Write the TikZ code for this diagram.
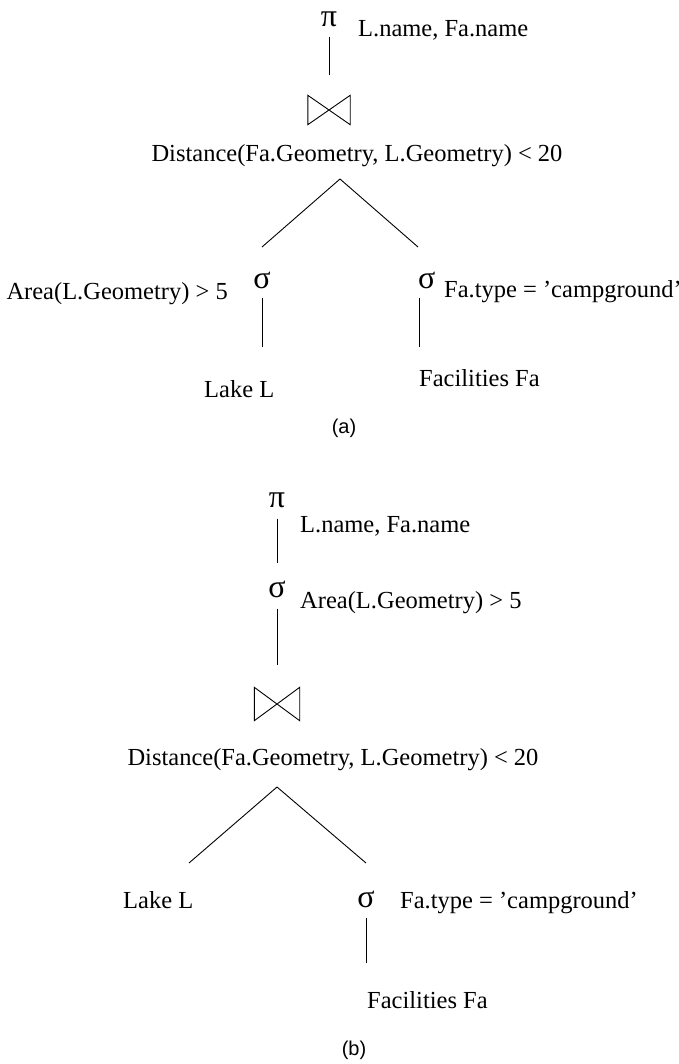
\documentclass[tikz,border=0pt]{standalone}
\usepackage{fontspec}
\setmainfont{Liberation Serif}
\newfontfamily\labfont{Liberation Sans}
\tikzset{
  txt/.style={inner sep=0pt, font=\fontsize{24.5}{29}\selectfont},
  greek/.style={inner sep=0pt, font=\fontsize{32}{38}\selectfont},
  sub/.style={inner sep=0pt, font=\labfont\fontsize{20}{24}\selectfont},
  edge/.style={line width=0.9pt},
  joinbox/.style={minimum width=42pt, minimum height=29pt, inner sep=0pt},
}
\begin{document}
\begin{tikzpicture}[x=1pt,y=-1pt]
\useasboundingbox (0,0) rectangle (679,1064);
\fill[white] (0,0) rectangle (679,1064);

% ---------- (a) ----------
\node[greek, anchor=base] (piA) at (329,27) {π};
\node[txt, anchor=base west] (projA) at (358,37) {L.name, Fa.name};
\node[joinbox] (jA) at (329,110) {};
\node[txt, anchor=base] (distA) at (357,162) {Distance(Fa.Geometry, L.Geometry) < 20};
\coordinate (apexA) at (340,179);
\coordinate (legAL) at (262,247);
\coordinate (legAR) at (418,247);
\node[greek, anchor=base] (sigAL) at (262,288) {σ};
\node[txt, anchor=base east] (condAL) at (228,299) {Area(L.Geometry) > 5};
\node[greek, anchor=base west] (sigAR) at (418,288) {σ};
\node[txt, anchor=base west] (condAR) at (444,298) {Fa.type = ’campground’};
\node[txt, anchor=base west] (lakeA) at (204,397) {Lake L};
\node[txt, anchor=base west] (facA) at (419,386) {Facilities Fa};
\node[sub] (capA) at (344,428) {(a)};

\draw[edge, shorten <=9pt, shorten >=20.5pt] (piA.south) -- (jA.north);
\draw[edge] (jA.north west) -- (jA.south west) -- (jA.north east) -- (jA.south east) -- cycle;
\draw[edge] (apexA) -- (legAL);
\draw[edge] (apexA) -- (legAR);
\draw[edge, shorten <=9pt, shorten >=33pt] (sigAL.south) -- (sigAL.south |- lakeA.north);
\draw[edge, shorten <=9pt, shorten >=22pt] ([xshift=1pt]sigAR.south west) -- ([xshift=1pt]sigAR.south west |- facA.north);

% ---------- (b) ----------
\node[greek, anchor=base] (piB) at (277,507) {π};
\node[txt, anchor=base west] (projB) at (300,532) {L.name, Fa.name};
\node[greek, anchor=base] (sigB) at (277,597) {σ};
\node[txt, anchor=base west] (condB) at (300,608) {Area(L.Geometry) > 5};
\node[joinbox, minimum width=45pt, minimum height=33pt] (jB) at (277,704) {};
\node[txt, anchor=base] (distB) at (333,765) {Distance(Fa.Geometry, L.Geometry) < 20};
\coordinate (apexB) at (277,787);
\coordinate (legBL) at (189,863);
\coordinate (legBR) at (366,863);
\node[txt, anchor=base west] (lakeB) at (123,908) {Lake L};
\node[greek, anchor=base] (sigBR) at (366,907) {σ};
\node[txt, anchor=base west] (condBR) at (400,908) {Fa.type = ’campground’};
\node[txt, anchor=base west] (facB) at (367,1008) {Facilities Fa};
\node[sub] (capB) at (354,1050) {(b)};

\draw[edge, shorten <=11pt, shorten >=17pt] (piB.south) -- (sigB.north);
\draw[edge, shorten <=11pt, shorten >=22.5pt] (sigB.south) -- (jB.north);
\draw[edge] (jB.north west) -- (jB.south west) -- (jB.north east) -- (jB.south east) -- cycle;
\draw[edge] (apexB) -- (legBL);
\draw[edge] (apexB) -- (legBR);
\draw[edge, shorten <=10pt, shorten >=28pt] (sigBR.south) -- (sigBR.south |- facB.north);
\end{tikzpicture}
\end{document}
